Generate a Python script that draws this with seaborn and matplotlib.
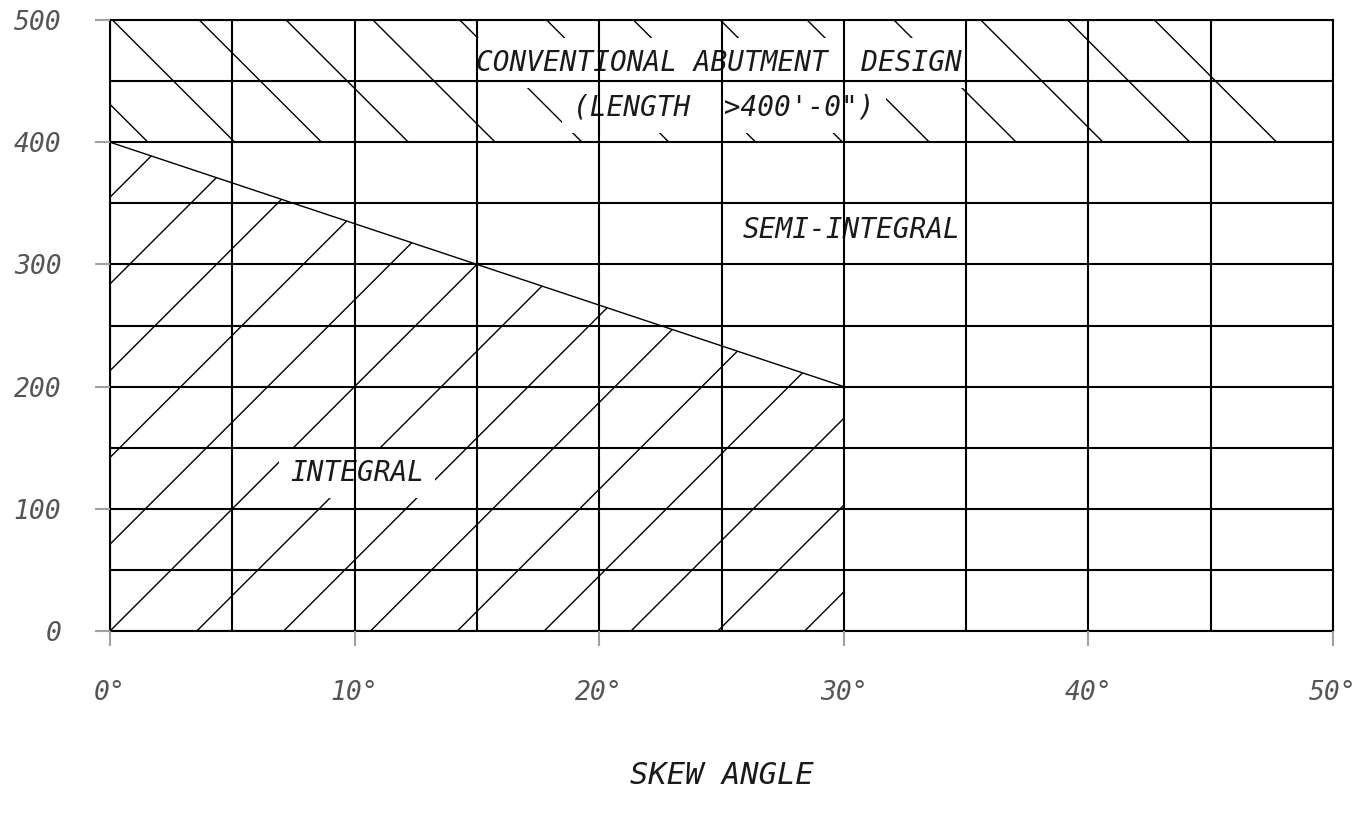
import numpy as np
import matplotlib
matplotlib.use("Agg")
import matplotlib.pyplot as plt
from matplotlib.patches import Polygon
import seaborn as sns

# limites du diagramme
skew_ticks = [0, 10, 20, 30, 40, 50]
skew_labels = ["0°", "10°", "20°", "30°", "40°", "50°"]
length_ticks = [0, 100, 200, 300, 400, 500]
length_labels = ["0", "100", "200", "300", "400", "500"]

# frontiere integral / semi-integral
boundary_x = [0, 30]
boundary_y = [400, 200]
conventional_min = 400   # au-dessus : culee conventionnelle

sns.set_theme(style="white")
plt.rcParams['font.family'] = ['DejaVu Sans Mono', 'DejaVu Sans']

fig = plt.figure(figsize=(13.64, 8.25), dpi=100)
ax = fig.add_axes([110 / 1364, 1 - 631 / 825, 1223 / 1364, 611 / 825])
ax.set_xlim(0, 50)
ax.set_ylim(0, 500)

# hachures faites a la main (espacement large comme sur le plan)
hatch_step = 71
hatch_slope = 20
xs = np.array([-2, 52])

top_zone = Polygon([(0, conventional_min), (50, conventional_min), (50, 500), (0, 500)],
                   closed=True, transform=ax.transData)
integral_zone = Polygon([(0, 0), (boundary_x[0], boundary_y[0]),
                         (boundary_x[1], boundary_y[1]), (boundary_x[1], 0)],
                        closed=True, transform=ax.transData)

for k in range(-10, 20):
    c = 431 + hatch_step * k - 6 * hatch_step
    ln, = ax.plot(xs, -hatch_slope * xs + c, color="black", lw=1.0, zorder=1)
    ln.set_clip_path(top_zone)
    c2 = -hatch_step * k
    ln2, = ax.plot(xs, hatch_slope * xs + c2, color="black", lw=1.0, zorder=1)
    ln2.set_clip_path(integral_zone)

sns.lineplot(x=boundary_x, y=boundary_y, color="black", linewidth=1.0, ax=ax, zorder=2.2)

txt = dict(style="italic", color="#1a1a1a", ha="center", va="center", zorder=2,
           bbox=dict(facecolor="white", edgecolor="none", pad=8))
ax.text(24.9, 465, "CONVENTIONAL ABUTMENT  DESIGN", fontsize=20, **txt)
ax.text(25.1, 428, "(LENGTH  >400'-0\")", fontsize=20, **txt)
ax.text(30.3, 328, "SEMI-INTEGRAL", fontsize=20, **txt)
ax.text(10.1, 129, "INTEGRAL", fontsize=20, **txt)

# grille tous les 5 degres / 50
ax.set_xticks(skew_ticks)
ax.set_xticklabels(skew_labels)
ax.set_yticks(length_ticks)
ax.set_yticklabels(length_labels)
ax.set_xticks(np.arange(0, 51, 5), minor=True)
ax.set_yticks(np.arange(0, 501, 50), minor=True)
ax.set_axisbelow(False)
ax.grid(True, which="both", color="black", linewidth=1.5)
ax.tick_params(which="major", length=11, width=1.5, color="#a0a0a0",
               labelsize=19, labelcolor="#555555", pad=24, bottom=True, left=True)
ax.tick_params(which="minor", length=0)
for lab in ax.get_xticklabels() + ax.get_yticklabels():
    lab.set_style("italic")
for s in ax.spines.values():
    s.set_color("black")
    s.set_linewidth(1.5)

ax.set_xlabel("SKEW ANGLE", fontsize=22, style="italic", color="#1a1a1a", labelpad=40)

fig.savefig("out.png", dpi=100, facecolor="white")
